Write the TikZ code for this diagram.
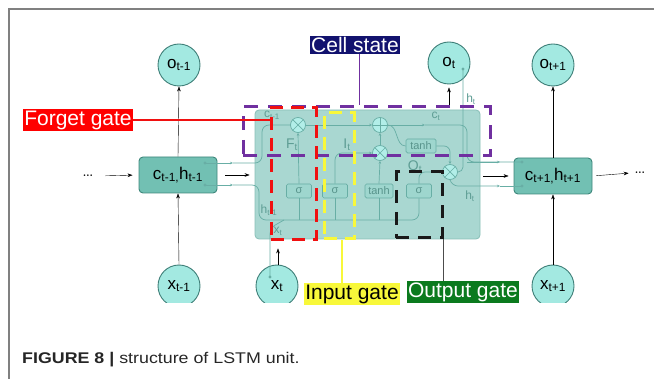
\documentclass[tikz,border=0pt]{standalone}
\usepackage{fontspec}
\setsansfont{Liberation Sans}
\usetikzlibrary{arrows.meta}
\definecolor{circfill}{HTML}{A3E9E1}
\definecolor{circline}{HTML}{3F7F78}
\definecolor{boxfill}{HTML}{72C0B3}
\definecolor{boxline}{HTML}{3E877B}
\definecolor{cellfill}{HTML}{A9D7D1}
\definecolor{cellline}{HTML}{88BFB7}
\definecolor{wirec}{HTML}{68AEA5}
\definecolor{opfill}{HTML}{B2EEE8}
\definecolor{gatefill}{HTML}{9ED6CE}
\definecolor{purp}{HTML}{7030A0}
\definecolor{navy}{HTML}{12126E}
\definecolor{lemon}{HTML}{F8F83A}
\definecolor{dgreen}{HTML}{0B7A1E}
\definecolor{redg}{HTML}{F01010}
\begin{document}
\begin{tikzpicture}[x=1pt, y=-1pt, >={Stealth[length=5pt,width=3.6pt]}, font=\sffamily,
    circ/.style={circle, draw=circline, fill=circfill, line width=0.9pt, minimum size=42pt, inner sep=0pt, font=\sffamily\fontsize{17}{17}\selectfont},
    statebox/.style={draw=boxline, fill=boxfill, rounded corners=4pt, line width=0.9pt, minimum width=78pt, minimum height=36pt, inner sep=0pt, font=\sffamily\fontsize{17}{17}\selectfont},
    gatebox/.style={draw=wirec, fill=gatefill, rounded corners=1.5pt, line width=0.7pt, minimum width=25pt, minimum height=14pt, inner sep=0pt, text=wirec!85!black, font=\sffamily\fontsize{11}{11}\selectfont},
    op/.style={circle, draw=wirec, fill=opfill, line width=0.7pt, minimum size=15pt, inner sep=0pt},
    mulop/.style={op, path picture={\draw[wirec, line width=0.7pt] (path picture bounding box.north west) -- (path picture bounding box.south east) (path picture bounding box.north east) -- (path picture bounding box.south west);}},
    addop/.style={op, path picture={\draw[wirec, line width=0.7pt] (path picture bounding box.north) -- (path picture bounding box.south) (path picture bounding box.west) -- (path picture bounding box.east);}},
    wire/.style={draw=wirec, line width=0.7pt},
    tip/.style={-{Stealth[length=3pt,width=2.5pt]}},
    tag/.style={text=wirec!90!black, inner sep=0pt, font=\sffamily\fontsize{12}{12}\selectfont},
    gate/.style={draw, line width=3pt, inner sep=0pt},
    callout/.style={inner sep=1.5pt, font=\sffamily\fontsize{21}{21}\selectfont}]
    \useasboundingbox (0,0) rectangle (654,379);
    % frame
    \draw[gray, line width=1.2pt] (9,379) -- (9,9) -- (654,9);

    % outputs and inputs
    \node[circ] (o1) at (179,65) {o\textsubscript{t-1}};
    \node[circ] (o2) at (449,63) {o\textsubscript{t}};
    \node[circ] (o3) at (553,65) {o\textsubscript{t+1}};
    \begin{scope}
        \clip (0,0) rectangle (654,303);
        \node[circ] (x1) at (179,286) {x\textsubscript{t-1}};
        \node[circ] (x2) at (277,286) {x\textsubscript{t}};
        \node[circ] (x3) at (553,286) {x\textsubscript{t+1}};
    \end{scope}

    % states
    \node[statebox] (s1) at (178,175) {c\textsubscript{t-1,}h\textsubscript{t-1}};
    \node[statebox] (s3) at (553,176) {c\textsubscript{t+1,}h\textsubscript{t+1}};
    \node[font=\fontsize{20}{20}\selectfont] (dl) at (88,176) {\dots};
    \node[font=\fontsize{20}{20}\selectfont] (dr) at (640,173) {\dots};

    % LSTM cell
    \node[draw=cellline, fill=cellfill, rounded corners=4pt, line width=0.8pt, minimum width=225pt, minimum height=129pt] (cell) at (367.5,174.5) {};

    \coordinate (d1) at (205,163);
    \coordinate (d2) at (205,185);
    \coordinate (e1) at (522,162);
    \coordinate (e2) at (522,186);
    \coordinate (xdot) at (270,277);
    \coordinate (hdot) at (463,69);
    \foreach \p in {d1,d2,e1,e2,xdot,hdot}
        \fill[wirec] (\p) circle (1.6pt);

    \node[mulop] (fx) at (298,125) {};
    \node[addop] (add) at (380,125) {};
    \node[mulop] (ix) at (380,153) {};
    \node[mulop] (ox) at (450,172) {};
    \node[gatebox, minimum width=30pt] (th1) at (421,146) {tanh};
    \node[gatebox] (sg1) at (299,191) {σ};
    \node[gatebox] (sg2) at (335,191) {σ};
    \node[gatebox, minimum width=28pt] (th2) at (379,191) {tanh};
    \node[gatebox] (sg4) at (419,191) {σ};

    % wires
    \draw[wire, tip] (d1) -- (233,163);
    \draw[wire, rounded corners=7pt] (233,163) -- (262,163) -- (262,125) -- (fx.west);
    \draw[wire, tip] (fx.east) -- (add.west);
    \draw[wire, tip] (add.east) -- (425,125);
    \draw[wire, rounded corners=7pt] (425,125) -- (467,125) -- (467,162) -- (e1);
    \draw[wire, tip] (d2) -- (233,185);
    \draw[wire, rounded corners=7pt] (233,185) -- (259,185) -- (259,220) -- (419,220) -- (sg4.south);
    \draw[wire, rounded corners=6pt] (xdot) -- (270,228) -- (284,220);
    \draw[wire] (299,220) -- (sg1.south);
    \draw[wire, tip] (sg1.north) -- (fx.south);
    \draw[wire] (335,220) -- (sg2.south);
    \draw[wire, tip, rounded corners=7pt] (sg2.north) -- (335,153) -- (ix.west);
    \draw[wire] (379,220) -- (th2.south);
    \draw[wire, tip] (th2.north) -- (ix.south);
    \draw[wire, tip] (ix.north) -- (add.south);
    \draw[wire, tip, rounded corners=6pt] (sg4.north) -- (419,172) -- (ox.west);
    \draw[wire] (add.east) to[out=0, in=180] (th1.west);
    \draw[wire, tip, rounded corners=6pt] (th1.east) -- (450,146) -- (ox.north);
    \draw[wire, rounded corners=5pt] (ox.east) -- (463,172) -- (hdot);
    \draw[wire, tip, rounded corners=6pt] (ox.south) -- (452,186) -- (500,186);
    \draw[wire] (500,186) -- (e2);
    \draw[wire, tip] (467,162) -- (500,162);

    % faded labels
    \node[tag] (tc1) at (272,115) {c\textsubscript{t-1}};
    \node[tag] (tc2) at (436,116) {c\textsubscript{t}};
    \node[tag, font=\sffamily\fontsize{14}{14}\selectfont] (tf) at (292,145) {F\textsubscript{t}};
    \node[tag, font=\sffamily\fontsize{14}{14}\selectfont] (ti) at (347,145) {I\textsubscript{t}};
    \node[tag, font=\sffamily\fontsize{14}{14}\selectfont] (to) at (415,167) {O\textsubscript{t}};
    \node[tag] (tht1) at (269,210) {h\textsubscript{t-1}};
    \node[tag] (txt) at (278,231) {x\textsubscript{t}};
    \node[tag] (tht) at (470,196) {h\textsubscript{t}};
    \node[tag] (thu) at (471,99) {h\textsubscript{t}};

    % black arrows
    \draw[->] (s1.north) -- (o1.south);
    \draw[->] (x1.north) -- (s1.south);
    \draw[->] (s3.north) -- (o3.south);
    \draw[->] (x3.north) -- (s3.south);
    \draw[->, shorten <=8pt, shorten >=6pt] (dl.east) -- (s1.west);
    \draw[->, shorten <=8pt, shorten >=5pt] (s1.east) -- (cell.west |- s1.east);
    \draw[->, shorten <=3pt, shorten >=5pt] (cell.east |- s3.west) -- (s3.west);
    \draw[->, shorten <=4pt, shorten >=2pt] (s3.east) -- (dr.west);
    \draw[->, shorten >=9pt] ([xshift=1pt]x2.north) -- ([xshift=1pt]x2.north |- cell.south);
    \draw[->, shorten <=3pt, shorten >=3pt] (cell.north -| o2.south) -- (o2.south);

    % gate outlines
    \node[gate, draw=purp, minimum width=247pt, minimum height=49pt, dash pattern=on 14pt off 10pt] (cellrect) at (366.5,131.5) {};
    \node[gate, draw=redg, minimum width=45pt, minimum height=132pt, dash pattern=on 13pt off 8pt] (forgetrect) at (293.5,174) {};
    \node[gate, draw=lemon, minimum width=30pt, minimum height=126pt, dash pattern=on 13pt off 8pt] (inrect) at (339,176) {};
    \node[gate, draw=black!90, minimum width=46pt, minimum height=66pt, dash pattern=on 13pt off 9pt] (outrect) at (419,205) {};

    % labels
    \node[callout, fill=navy, text=white] (cs) at (355,45) {Cell state};
    \node[callout, fill=red, text=white] (fg) at (78,120) {Forget gate};
    \node[callout, fill=lemon, text=black] (ig) at (352,294) {Input gate};
    \node[callout, fill=dgreen, text=white] (og) at (463,292) {Output gate};
    \draw[purp, line width=1pt] ([xshift=4pt]cs.south) -- ([xshift=4pt]cs.south |- cellrect.north);
    \draw[redg, line width=1.2pt] (fg.east) -- (fg.east -| forgetrect.west);
    \draw[lemon, line width=1.5pt] ([xshift=3pt]inrect.south) -- ([xshift=3pt]inrect.south |- ig.north);
    \draw[black!70, line width=1pt] (outrect.south east) -- (outrect.south east |- og.north);

    % caption
    \node[anchor=base west, inner sep=0pt, text=black!85, font=\sffamily\fontsize{15.5}{16}\selectfont] (cap) at (22,364)
        {\scalebox{1.15}[1]{\textbf{FIGURE 8 |} structure of LSTM unit.}};
\end{tikzpicture}
\end{document}
